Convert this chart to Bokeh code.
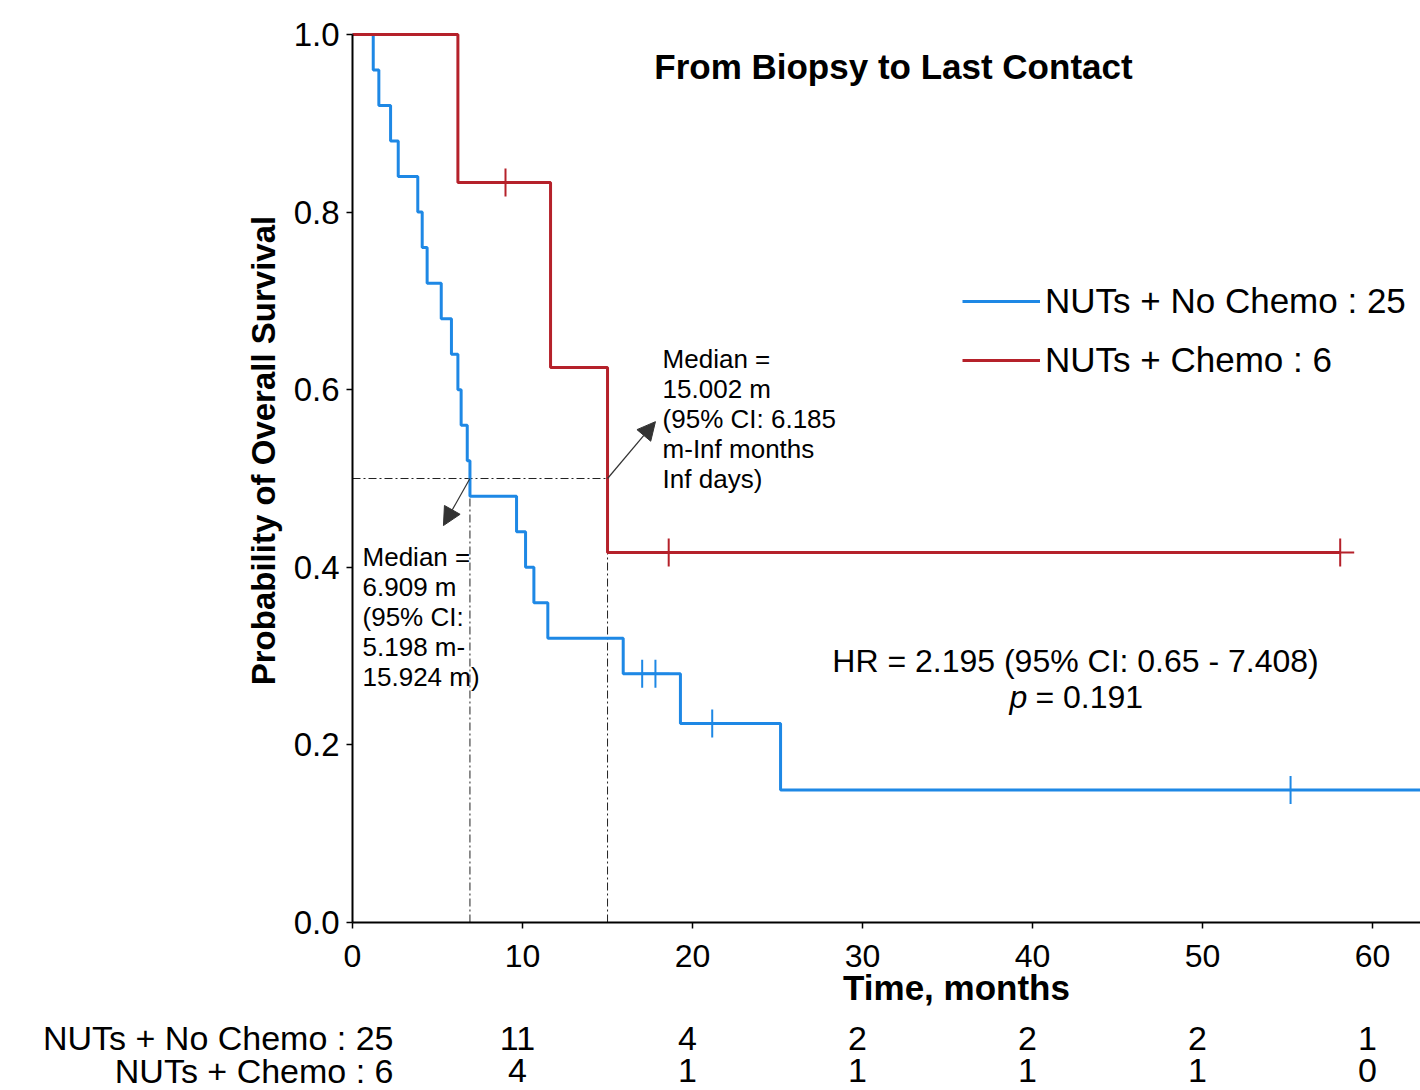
import numpy as np
from bokeh.plotting import figure
from bokeh.models import (Range1d, Label, Arrow, NormalHead, Legend, LegendItem,
                          FixedTicker, LinearAxis)
from bokeh.embed import file_html
from bokeh.resources import INLINE

# ---------------- data ----------------
group_names = ["NUTs + No Chemo", "NUTs + Chemo"]
group_n = [25, 6]
colors = ["#1e88e5", "#b5212a"]

nochemo_event_t = [1.22, 1.55, 2.24, 2.69, 3.84, 4.10, 4.39, 5.22, 5.82, 6.20,
                   6.39, 6.75, 6.909, 9.65, 10.18, 10.67, 11.49, 15.924, 19.29, 25.18]
nochemo_surv = [0.96, 0.92, 0.88, 0.84, 0.80, 0.76, 0.72, 0.68, 0.64, 0.60,
                0.56, 0.52, 0.48, 0.44, 0.40, 0.36, 0.32, 0.28, 0.224, 0.1493]
nochemo_censor_t = [17.04, 17.82, 21.16, 55.18, 63.3]
nochemo_end = 63.3

chemo_event_t = [6.20, 11.65, 15.002]
chemo_surv = [0.8333, 0.625, 0.4167]
chemo_censor_t = [9.0, 18.6, 58.1]
chemo_end = 58.1

medians = [6.909, 15.002]

risk_times = [0, 10, 20, 30, 40, 50, 60]
risk_nochemo = [25, 11, 4, 2, 2, 2, 1]
risk_chemo = [6, 4, 1, 1, 1, 1, 0]

x_ticks = [0, 10, 20, 30, 40, 50, 60]
y_ticks = [0.0, 0.2, 0.4, 0.6, 0.8, 1.0]
y_tick_labels = {0.0: "0.0", 0.2: "0.2", 0.4: "0.4", 0.6: "0.6", 0.8: "0.8", 1.0: "1.0"}

title_text = "From Biopsy to Last Contact"
xlabel_text = "Time, months"
ylabel_text = "Probability of Overall Survival"
median1_text = "Median =\n6.909 m\n(95% CI:\n5.198 m-\n15.924 m)"
median2_text = "Median =\n15.002 m\n(95% CI: 6.185\nm-Inf months\nInf days)"
hr_text = "HR = 2.195 (95% CI: 0.65 - 7.408)"
p_text = "= 0.191"

FONT = "Liberation Sans"

# ---------------- figure ----------------
# the frame fills the whole canvas; axes are fixed at x=0 / y=0
PX_PER_MONTH = 17.0
PX_PER_UNIT = 888.0
W, H = 1420, 1090
X0_PX, Y0_PX = 352, 922
p = figure(width=W, height=H, output_backend="svg", toolbar_location=None,
           x_axis_type=None, y_axis_type=None,
           x_range=Range1d(-X0_PX / PX_PER_MONTH, (W - X0_PX) / PX_PER_MONTH),
           y_range=Range1d(-(H - Y0_PX) / PX_PER_UNIT, Y0_PX / PX_PER_UNIT),
           min_border=0, min_border_left=0, min_border_right=0,
           min_border_top=0, min_border_bottom=0)
p.outline_line_color = None
p.background_fill_color = "white"
p.border_fill_color = "white"

xaxis = LinearAxis(fixed_location=0, bounds=(0, (W - X0_PX) / PX_PER_MONTH),
                   ticker=FixedTicker(ticks=x_ticks), major_label_standoff=16)
yaxis = LinearAxis(fixed_location=0, bounds=(0, 1.0),
                   ticker=FixedTicker(ticks=y_ticks), major_label_standoff=7,
                   major_label_overrides=y_tick_labels)
for ax in (xaxis, yaxis):
    ax.axis_line_width = 2
    ax.axis_line_color = "black"
    ax.major_tick_line_color = "black"
    ax.major_tick_line_width = 1.5
    ax.major_tick_out = 6
    ax.major_tick_in = 0
    ax.minor_tick_line_color = None
    ax.major_label_text_font = FONT
    ax.major_label_text_color = "black"
xaxis.major_label_text_font_size = "32px"
yaxis.major_label_text_font_size = "33px"
p.add_layout(xaxis, "below")
p.add_layout(yaxis, "left")


def step_xy(ev_t, surv, end):
    xs = [0.0] + list(ev_t) + [end]
    ys = [1.0] + list(surv) + [surv[-1]]
    return xs, ys


def surv_at(ev_t, surv, t):
    idx = np.searchsorted(np.array(ev_t), np.array(t), side="right")
    s = np.array([1.0] + list(surv))
    return s[idx]


# reference (median) lines
p.segment(x0=[0], y0=[0.5], x1=[max(medians)], y1=[0.5], line_color="#222222",
          line_width=1, line_dash="8 3 2 3")
p.segment(x0=medians, y0=[0, 0], x1=medians, y1=[0.5, 0.5], line_color="#222222",
          line_width=1, line_dash="8 3 2 3")

# curves
renderers = []
for ev_t, surv, cens, end, col in [
    (nochemo_event_t, nochemo_surv, nochemo_censor_t, nochemo_end, colors[0]),
    (chemo_event_t, chemo_surv, chemo_censor_t, chemo_end, colors[1]),
]:
    xs, ys = step_xy(ev_t, surv, end)
    r = p.step(xs, ys, mode="after", line_color=col, line_width=3)
    renderers.append(r)
    p.scatter(cens, surv_at(ev_t, surv, cens), marker="cross", size=28,
              line_color=col, line_width=2)

# legend
legend = Legend(items=[LegendItem(label=f"{group_names[i]} : {group_n[i]}", renderers=[renderers[i]])
                       for i in range(2)],
                location=(962, H - 380), orientation="vertical",
                label_text_font=FONT, label_text_font_size="35px", label_text_color="black",
                glyph_width=78, glyph_height=36, label_height=36, label_standoff=5,
                spacing=19, padding=0, margin=0,
                border_line_color=None, background_fill_alpha=0)
p.add_layout(legend)

# arrows from median points
p.add_layout(Arrow(end=NormalHead(size=18, fill_color="#333333", line_color="#333333"),
                   x_start=medians[0], y_start=0.5, x_end=5.35, y_end=0.447,
                   line_color="#333333", line_width=1.2))
p.add_layout(Arrow(end=NormalHead(size=18, fill_color="#333333", line_color="#333333"),
                   x_start=medians[1], y_start=0.5, x_end=17.82, y_end=0.564,
                   line_color="#333333", line_width=1.2))


# text annotations
def lab(x, y, text, size, **kw):
    opts = dict(text_font=FONT, text_font_size=size, text_color="black")
    opts.update(kw)
    p.add_layout(Label(x=x, y=y, text=text, **opts))


lab(31.82, 0.9640, title_text, "35px", text_font_style="bold",
    text_align="center", text_baseline="middle")
lab(0.59, 0.428, median1_text, "26px", text_align="left", text_baseline="top",
    text_line_height=1.0)
lab(18.24, 0.651, median2_text, "26px", text_align="left", text_baseline="top",
    text_line_height=1.0)
lab(42.53, 0.294, hr_text, "32px", text_align="center", text_baseline="middle")
lab(39.7, 0.2534, "p", "32px", text_font_style="italic", text_align="right", text_baseline="middle")
lab(39.7, 0.2534, p_text, "32px", text_align="left", text_baseline="middle", x_offset=8)

# axis titles
lab(35.53, -0.0732, xlabel_text, "35px", text_font_style="bold",
    text_align="center", text_baseline="middle")
lab(-5.235, 0.5315, ylabel_text, "33px", text_font_style="bold",
    text_align="center", text_baseline="middle", angle=np.pi / 2)

# number at risk table
for row_y, counts, gi in [(-0.1306, risk_nochemo, 0), (-0.1667, risk_chemo, 1)]:
    lab(risk_times[0], row_y, f"{group_names[gi]} : {counts[0]}", "34px",
        text_align="right", text_baseline="middle", x_offset=41)
    for t, n in zip(risk_times[1:], counts[1:]):
        lab(t, row_y, str(n), "34px", text_align="center", text_baseline="middle", x_offset=-5)

open("out.html", "w").write(file_html(p, INLINE))
